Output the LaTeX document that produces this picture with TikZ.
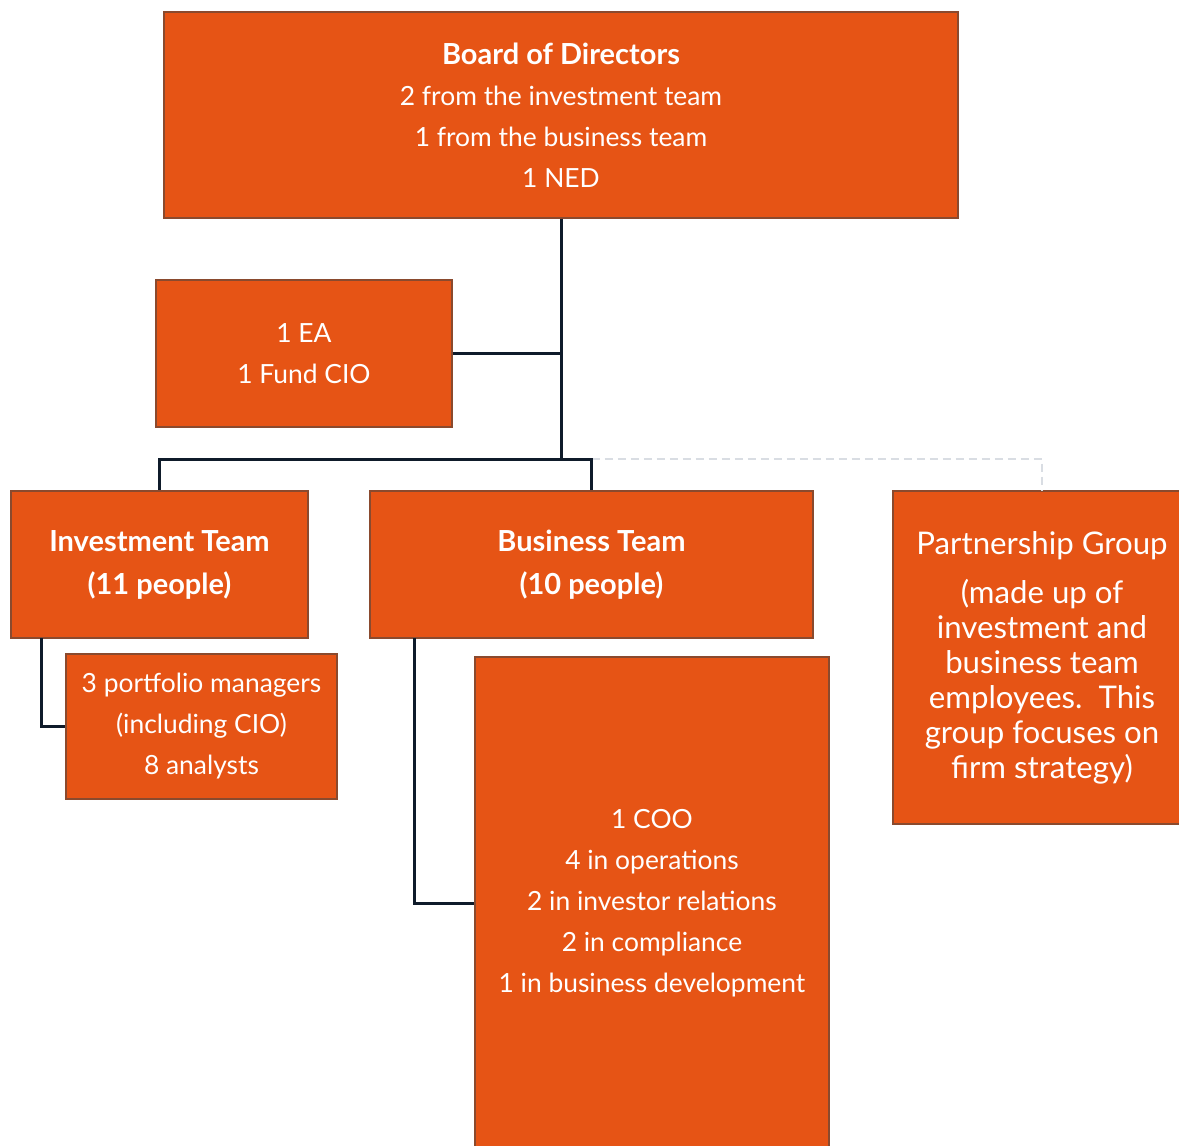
\documentclass[tikz,border=0pt]{standalone}
\usepackage{fontspec}
\setmainfont{Lato}
\definecolor{boxor}{HTML}{E65415}
\definecolor{boxedge}{HTML}{8A4A2E}
\definecolor{linenavy}{HTML}{0F1B2A}
\definecolor{dashgray}{HTML}{D9DDE3}
\begin{document}
\begin{tikzpicture}[x=0.5pt,y=-0.5pt,
  box/.style={draw=boxedge,line width=0.6pt,fill=boxor,text=white,align=center,inner sep=0pt,font=\fontsize{13.2}{20.5}\selectfont},
  conn/.style={draw=linenavy,line width=1.5pt},
  dashconn/.style={draw=dashgray,line width=0.6pt,dash pattern=on 4pt off 2.5pt}]
\useasboundingbox (0,0) rectangle (1179,1146);
\clip (0,0) rectangle (1179,1146);
\node[box,minimum width=397pt,minimum height=103pt] (board) at (561,115)
  {{\fontsize{14.5}{20.5}\selectfont\bfseries Board of Directors}\\2 from the investment team\\1 from the business team\\1 NED};
\node[box,minimum width=148pt,minimum height=73.5pt] (ea) at (304,353.5)
  {1 EA\\1 Fund CIO};
\node[box,minimum width=148.5pt,minimum height=73.5pt,font=\fontsize{14.5}{21.5}\selectfont\bfseries] (inv) at (159.5,564.5)
  {Investment Team\\(11 people)};
\node[box,minimum width=221.5pt,minimum height=73.5pt,font=\fontsize{14.5}{21.5}\selectfont\bfseries] (bus) at (591.5,564.5)
  {Business Team\\(10 people)};
\node[box,minimum width=149pt,minimum height=166.5pt,font=\fontsize{15.6}{17.5}\selectfont] (part) at (1042,657.5)
  {Partnership Group\\[7pt](made up of\\investment and\\business team\\employees.\ \ This\\group focuses on\\firm strategy)};
\node[box,minimum width=135.5pt,minimum height=72.5pt] (port) at (201.5,726.5)
  {3 portfolio managers\\(including CIO)\\8 analysts};
\node[box,minimum width=177pt,minimum height=246.5pt] (coo) at (652,903.5)
  {1 COO\\4 in operations\\2 in investor relations\\2 in compliance\\1 in business development};
\coordinate (j) at (561,459);
\coordinate (invdrop) at (41,638);
\coordinate (busdrop) at (414,638);
\draw[dashconn] (bus.north |- j) -| (part.north);
\draw[conn] (board.south) -- (j);
\draw[conn] (ea.east) -- (ea.east -| j);
\draw[conn] (j) -| (inv.north);
\draw[conn] (j) -| (bus.north);
\draw[conn] (invdrop) |- (port.west);
\draw[conn] (busdrop) |- (coo.west);
\end{tikzpicture}
\end{document}
